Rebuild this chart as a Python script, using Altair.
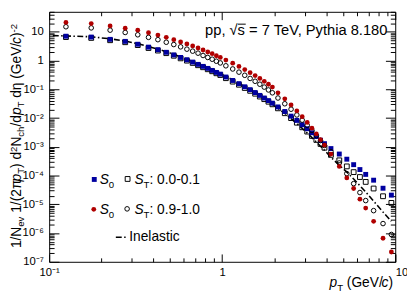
import altair as alt
import pandas as pd

# ---------------- data ----------------
PT = [0.125, 0.175, 0.225, 0.275, 0.325, 0.375, 0.425, 0.475, 0.525, 0.575,
      0.625, 0.675, 0.725, 0.775, 0.825, 0.875, 0.925, 0.975,
      1.05, 1.15, 1.25, 1.35, 1.45, 1.55, 1.65, 1.75, 1.85, 1.95,
      2.1, 2.3, 2.5, 2.7, 2.9, 3.1, 3.3, 3.5, 3.7, 3.9,
      4.25, 4.75, 5.25, 5.75, 6.25, 6.75, 7.5, 8.5, 9.5]

# S0 selection, S_T 0.0-0.1 (filled blue squares)
S0_JETTY = [7.08, 6.61, 5.50, 4.68, 3.72, 2.95, 2.40, 1.95, 1.58, 1.29,
            1.07, 0.891, 0.741, 0.631, 0.537, 0.457, 0.389, 0.339,
            0.269, 0.204, 0.158, 0.123, 0.0977, 0.0776, 0.0617, 0.0501, 0.0407, 0.0331,
            0.0245, 0.0170, 0.0117, 8.32e-3, 5.89e-3, 4.27e-3, 3.09e-3, 2.29e-3, 1.70e-3, 1.29e-3,
            8.71e-4, 5.62e-4, 3.72e-4, 2.40e-4, 1.62e-4, 1.10e-4, 6.92e-5, 3.63e-5, 2.09e-5]

# S_T 0.0-0.1 (open squares)
ST_JETTY = [6.61, 6.17, 5.13, 4.37, 3.47, 2.75, 2.24, 1.82, 1.48, 1.20,
            1.00, 0.832, 0.692, 0.589, 0.501, 0.427, 0.363, 0.316,
            0.245, 0.186, 0.145, 0.112, 0.0891, 0.0708, 0.0562, 0.0457, 0.0372, 0.0302,
            0.0219, 0.0148, 0.0100, 6.92e-3, 4.79e-3, 3.39e-3, 2.40e-3, 1.74e-3, 1.26e-3, 9.33e-4,
            5.25e-4, 3.39e-4, 2.09e-4, 1.32e-4, 8.91e-5, 6.03e-5, 3.55e-5, 1.91e-5, 1.12e-5]

# S0 selection, S_T 0.9-1.0 (filled red circles)
S0_ISO = [21.4, 19.5, 16.2, 13.5, 11.5, 9.33, 7.76, 6.46, 5.37, 4.47,
          3.80, 3.24, 2.75, 2.34, 2.00, 1.74, 1.48, 1.29,
          1.05, 0.813, 0.631, 0.490, 0.380, 0.302, 0.240, 0.191, 0.151, 0.120,
          0.0759, 0.0468, 0.0288, 0.0178, 0.0112, 7.08e-3, 4.47e-3, 2.82e-3, 1.78e-3, 1.15e-3,
          5.62e-4, 2.09e-4, 8.32e-5, 3.55e-5, 1.51e-5, 7.41e-6, 2.57e-6, 6.61e-7, 2.19e-7]

# S_T 0.9-1.0 (open circles)
ST_ISO = [15.1, 13.8, 11.5, 9.55, 7.94, 6.46, 5.37, 4.37, 3.63, 3.02,
          2.51, 2.14, 1.82, 1.51, 1.29, 1.12, 0.955, 0.832,
          0.661, 0.513, 0.398, 0.309, 0.240, 0.191, 0.151, 0.120, 0.0955, 0.0759,
          0.0501, 0.0316, 0.0204, 0.0129, 8.51e-3, 5.62e-3, 3.72e-3, 2.45e-3, 1.66e-3, 1.12e-3,
          6.76e-4, 2.75e-4, 1.17e-4, 5.25e-5, 2.57e-5, 1.35e-5, 6.03e-6, 2.14e-6, 8.91e-7]

# Inelastic (dash-dot line)
PT_INEL = [0.105] + PT
INEL = [7.41, 7.24, 6.76, 5.75, 4.79, 3.89, 3.09, 2.51, 2.04, 1.66,
        1.35, 1.12, 0.933, 0.776, 0.661, 0.562, 0.479, 0.407, 0.355,
        0.282, 0.214, 0.162, 0.126, 0.0977, 0.0759, 0.0603, 0.0479, 0.0380, 0.0302,
        0.0219, 0.0145, 9.55e-3, 6.46e-3, 4.37e-3, 3.02e-3, 2.09e-3, 1.48e-3, 1.05e-3, 7.59e-4,
        4.37e-4, 2.29e-4, 1.32e-4, 7.59e-5, 4.47e-5, 2.69e-5, 1.29e-5, 5.37e-6, 2.57e-6]

X_MAJOR = [0.1, 1, 10]
Y_MAJOR = [1e-7, 1e-6, 1e-5, 1e-4, 1e-3, 1e-2, 1e-1, 1, 10]

# ---------------- styles ----------------
FONT = "Liberation Sans"
BLUE = "#0000a0"
RED = "#b00000"
DASH = [6, 2.5, 1.5, 2.5]

XS = alt.Scale(type="log", domain=[0.1, 10], nice=False)
YS = alt.Scale(type="log", domain=[1e-7, 50], nice=False)

X_MINOR = [m * 10.0 ** e for e in (-1, 0) for m in range(2, 10)]
Y_MINOR = [m * 10.0 ** e for e in range(-7, 2) for m in range(2, 10) if m * 10.0 ** e <= 50]

SUP = "['⁰','¹','²','³','⁴','⁵','⁶','⁷','⁸','⁹']"
Y_LABEL = ("datum.value > 5 ? '10' : datum.value > 0.5 ? '1' : '10⁻' + " + SUP +
           "[round(-log(datum.value)/LN10)]")
X_LABEL = "datum.value > 5 ? '' : datum.value > 0.5 ? '1' : '10⁻¹'"


def axis(orient, values, tick, label_expr=None, **kw):
    d = dict(orient=orient, values=values, tickSize=tick, offset=-tick, domain=False,
             grid=False, title=None, ticks=True, tickColor="black", tickWidth=1,
             labels=label_expr is not None)
    if label_expr is not None:
        d.update(labelExpr=label_expr, labelFont=FONT, labelFontSize=11.5,
                 labelColor="black", labelOverlap=False, labelBound=False,
                 labelFlush=False)
    d.update(kw)
    return alt.Axis(**d)


def series(pt, vals):
    return pd.DataFrame({"pt": pt, "v": vals})


def enc(xaxis, yaxis):
    return dict(x=alt.X("pt:Q", scale=XS, axis=xaxis), y=alt.Y("v:Q", scale=YS, axis=yaxis))


layers = []

# the line layer carries the lone "10" label at the right end of the x axis
layers.append(alt.Chart(series(PT_INEL, INEL)).mark_line(
    color="black", strokeWidth=1.6, strokeDash=DASH).encode(
    **enc(axis("bottom", [10], 8, "'10'", labelPadding=5, labelBaseline="top",
               labelAlign="left"), None)))

layers.append(alt.Chart(series(PT, ST_JETTY)).mark_point(
    shape="square", filled=False, stroke="black", strokeWidth=1, size=24, opacity=1).encode(
    **enc(axis("bottom", X_MINOR, 4), axis("left", Y_MINOR, 5))))

layers.append(alt.Chart(series(PT, S0_JETTY)).mark_point(
    shape="square", filled=True, color=BLUE, size=25, opacity=1, strokeWidth=0).encode(
    **enc(axis("bottom", X_MAJOR, 8, X_LABEL, labelPadding=5, labelBaseline="top",
               labelAlign="center"),
          axis("left", Y_MAJOR, 10, Y_LABEL, labelPadding=6, labelAlign="right",
               labelBaseline="middle"))))

layers.append(alt.Chart(series(PT, ST_ISO)).mark_point(
    shape="circle", filled=False, stroke="black", strokeWidth=1, size=22, opacity=1).encode(
    **enc(axis("top", X_MINOR, 4), axis("right", Y_MINOR, 5))))

layers.append(alt.Chart(series(PT, S0_ISO)).mark_point(
    shape="circle", filled=True, color=RED, size=24, opacity=1, strokeWidth=0).encode(
    **enc(axis("top", X_MAJOR, 8), axis("right", Y_MAJOR, 10))))

# ---------------- rich text helper ----------------
CW = {' ': 278, '!': 278, '(': 333, ')': 333, ',': 278, '-': 333, '.': 278,
      '/': 278, ':': 278, '=': 584, 'G': 778, 'I': 278, 'N': 722, 'P': 667, 'S': 667,
      'T': 611, 'V': 667, 'a': 556, 'c': 500, 'd': 556, 'e': 556, 'h': 556, 'i': 222,
      'l': 222, 'n': 556, 'p': 556, 's': 500, 't': 278, 'v': 500, 'y': 500, 'π': 556,
      'η': 556, '√': 549}


def tw(s, fs):
    return sum(CW.get(c, 556) for c in s) * fs / 1000.0


def rich(segs, x0, y0, fs, vertical=False, sub=0.25, sup=0.28):
    """Each segment: (text, kind). Leading spaces become a positional gap."""
    out = []
    pos = 0.0
    prev = ""
    for text, kind in segs:
        small = kind in ("sub", "sup")
        size = fs * 0.7 if small else fs
        lead = len(text) - len(text.lstrip(" "))
        pos += lead * 278 * size / 1000.0
        text = text.lstrip(" ")
        if kind == "i" and prev.endswith("/"):
            pos -= 0.08 * fs  # tighten slash + italic letter
        shift = sub * fs if kind == "sub" else (-sup * fs if kind == "sup" else 0.0)
        if vertical:
            x, y = x0 + shift, y0 - pos
        else:
            x, y = x0 + pos, y0 + shift
        mk = dict(align="left", baseline="alphabetic", font=FONT, fontSize=size,
                  color="black", fontStyle="italic" if kind == "i" else "normal")
        if vertical:
            mk["angle"] = 270
        out.append(alt.Chart(pd.DataFrame({"t": [text]})).mark_text(**mk).encode(
            x=alt.value(x), y=alt.value(y), text="t:N"))
        pos += tw(text, size)
        prev = text
    return out


FS = 14
# y-axis title
layers += rich([("1/N", "n"), ("ev", "sub"), (" 1/(2π", "n"), ("p", "i"), ("T", "sub"),
                (") d", "n"), ("2", "sup"), ("N", "n"), ("ch", "sub"), ("/d", "n"),
                ("p", "i"), ("T", "sub"), (" dη (GeV/", "n"), ("c", "i"),
                (")", "n"), ("-2", "sup")], -29, 241, FS, vertical=True)
# x-axis title
layers += rich([("p", "i"), ("T", "sub"), (" (GeV/", "n"), ("c", "i"), (")", "n")],
               286, 281, FS, sub=0.28)
# header
layers += rich([("pp, √s = 7 TeV, Pythia 8.180", "n")], 159, 23.5, 15)
layers.append(alt.Chart(pd.DataFrame({"a": [0]})).mark_rule(color="black", strokeWidth=1).encode(
    x=alt.value(192.5), x2=alt.value(200.5), y=alt.value(12.6)))

# legend
layers.append(alt.Chart(pd.DataFrame({"a": [0]})).mark_point(
    shape="square", filled=True, color=BLUE, size=25, opacity=1, strokeWidth=0).encode(
    x=alt.value(46), y=alt.value(171)))
layers.append(alt.Chart(pd.DataFrame({"a": [0]})).mark_point(
    shape="square", filled=False, stroke="black", strokeWidth=1, size=24, opacity=1).encode(
    x=alt.value(80), y=alt.value(170.5)))
layers.append(alt.Chart(pd.DataFrame({"a": [0]})).mark_point(
    shape="circle", filled=True, color=RED, size=24, opacity=1, strokeWidth=0).encode(
    x=alt.value(45.5), y=alt.value(201.5)))
layers.append(alt.Chart(pd.DataFrame({"a": [0]})).mark_point(
    shape="circle", filled=False, stroke="black", strokeWidth=1, size=22, opacity=1).encode(
    x=alt.value(79.5), y=alt.value(201)))
layers.append(alt.Chart(pd.DataFrame({"a": [0]})).mark_rule(
    color="black", strokeWidth=1.6, strokeDash=DASH).encode(
    x=alt.value(68), x2=alt.value(80), y=alt.value(230)))

layers += rich([("S", "i"), ("0", "sub")], 51.5, 176, FS, sub=0.28)
layers += rich([("S", "i"), ("T", "sub"), (": 0.0-0.1", "n")], 87, 176, FS, sub=0.28)
layers += rich([("S", "i"), ("0", "sub")], 51.5, 206, FS, sub=0.28)
layers += rich([("S", "i"), ("T", "sub"), (": 0.9-1.0", "n")], 87, 206, FS, sub=0.28)
layers += rich([("Inelastic", "n")], 81.7, 234, FS)

chart = alt.layer(*layers).resolve_axis(x="independent", y="independent").properties(
    width=353, height=255,
    padding={"left": 42, "top": 1, "right": 12, "bottom": 32},
    autosize=alt.AutoSizeParams(type="none"),
    background="white",
).configure_view(stroke="black", strokeWidth=1)

chart.save("out.html", embed_options={"renderer": "svg", "actions": False})
